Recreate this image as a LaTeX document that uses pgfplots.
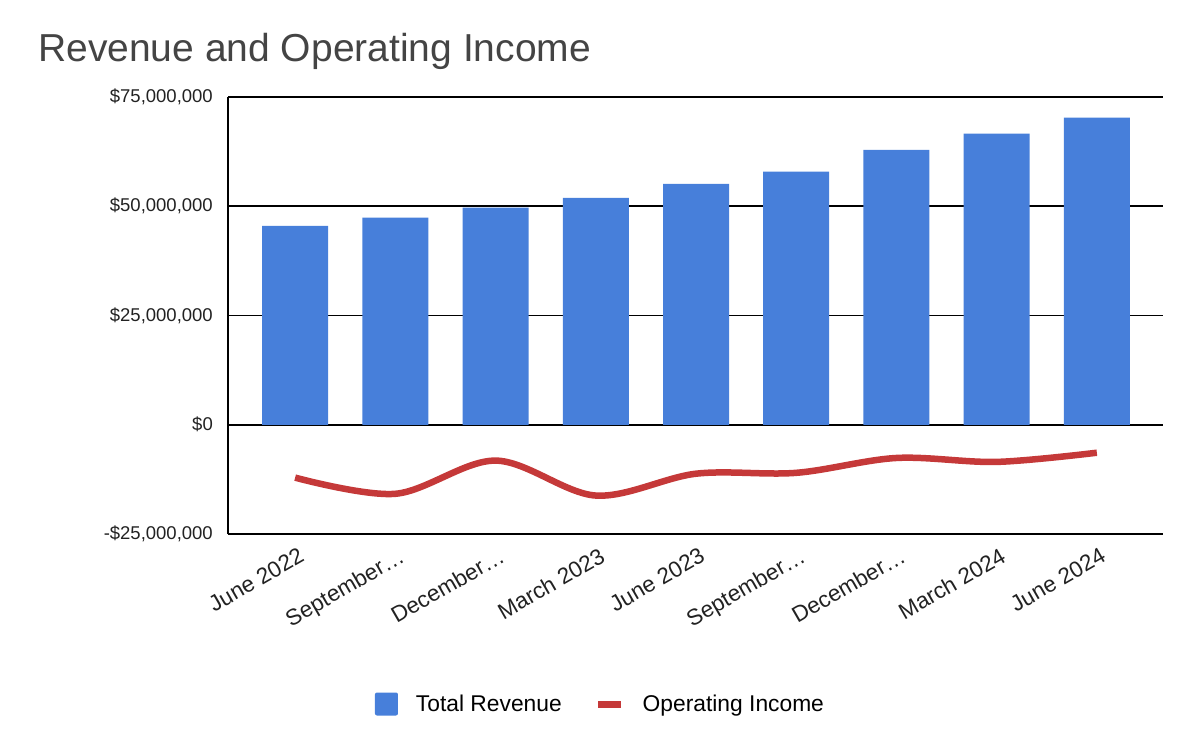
\documentclass[border=0pt]{standalone}
\usepackage{pgfplots}
\pgfplotsset{compat=1.18}
\usepackage{fontspec}
\setmainfont{Liberation Sans}

\definecolor{revblue}{HTML}{477FDA}
\definecolor{incred}{HTML}{C53939}
\definecolor{titlegray}{HTML}{444444}
\definecolor{ticktext}{HTML}{222222}

\begin{document}
\begin{tikzpicture}
\path[use as bounding box] (0pt,0pt) rectangle (1200pt,-741pt);

\node[anchor=base west, inner sep=0pt, text=titlegray,
      font=\fontsize{39}{45}\selectfont] at (38pt,-62pt) {Revenue and Operating Income};

\begin{axis}[
    at={(228pt,-534pt)}, anchor=south west,
    scale only axis,
    width=935pt, height=437pt,
    xmin=-0.67, xmax=8.66,
    ymin=-25, ymax=75,
    axis lines*=left,
    axis line style={black, line width=1.8pt},
    major tick length=0pt,
    ymajorgrids=true,
    major grid style={black, line width=1.7pt},
    ytick={-25,0,25,50,75},
    yticklabels={{-\$25,000,000},{\$0},{\$25,000,000},{\$50,000,000},{\$75,000,000}},
    y tick label style={font=\fontsize{18.5}{21}\selectfont, text=ticktext,
        inner sep=0pt, anchor=east, xshift=-15pt},
    xtick={0,1,2,3,4,5,6,7,8},
    xticklabels={{June 2022},{September\ldots},{December\ldots},{March 2023},{June 2023},
        {September\ldots},{December\ldots},{March 2024},{June 2024}},
    x tick label style={font=\fontsize{22.5}{25}\selectfont, text=ticktext,
        inner sep=0pt, rotate=30, anchor=north east, xshift=-4pt, yshift=-12pt},
    /pgf/number format/assume math mode=true,
    legend columns=2,
    legend style={at={(axis description cs:0.3973,-0.389)}, anchor=center,
        draw=none, fill=none, font=\fontsize{22.8}{26}\selectfont,
        nodes={inner sep=0pt},
        /tikz/every odd column/.append style={column sep=18pt},
        /tikz/every even column/.append style={column sep=33pt}},
]

\addplot[ybar, bar width=66pt, fill=revblue, draw=none,
    legend image code/.code={\fill[revblue, rounded corners=2pt] (0pt,-11.5pt) rectangle (23pt,11.5pt);}]
coordinates {
(0,45.5) (1,47.4) (2,49.7) (3,51.9) (4,55.1) (5,57.9) (6,62.9) (7,66.6) (8,70.3)
};
\addlegendentry{Total Revenue}

\addplot[smooth, tension=0.55, incred, line width=6.5pt, no markers,
    legend image code/.code={\draw[incred, line width=7pt] (0pt,0pt) -- (23pt,0pt);}]
coordinates {
(0,-12.1) (1,-15.8) (2,-8.2) (3,-16.2) (4,-11.2) (5,-11.0) (6,-7.6) (7,-8.5) (8,-6.4)
};
\addlegendentry{Operating Income}

\end{axis}
\end{tikzpicture}
\end{document}
